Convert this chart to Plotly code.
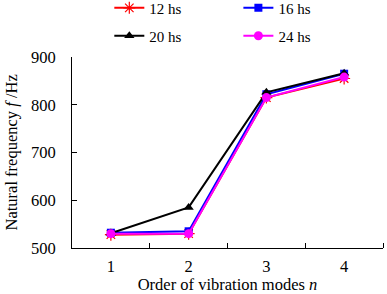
import plotly.graph_objects as go

modes = [1, 2, 3, 4]
tick_labels = ["1", "2", "3", "4"]
f_12hs = [528, 530, 815, 855]
f_16hs = [532, 535, 822, 865]
f_20hs = [531, 585, 826, 866]
f_24hs = [530, 530, 815, 858]

FONT = "Liberation Serif"

fig = go.Figure()
specs = [
    ("12 hs", f_12hs, "#ff0000", dict(symbol="asterisk-open", size=10, line=dict(color="#ff0000", width=1.2)), "legend"),
    ("16 hs", f_16hs, "#0000ff", dict(symbol="square", size=8), "legend2"),
    ("20 hs", f_20hs, "#000000", dict(symbol="triangle-up", size=9), "legend3"),
    ("24 hs", f_24hs, "#ff00ff", dict(symbol="circle", size=9), "legend4"),
]
for name, vals, col, mk, lg in specs:
    m = dict(color=col, **mk)
    fig.add_trace(go.Scatter(x=modes, y=vals, name=name, mode="lines+markers",
                             line=dict(color=col, width=2), marker=m, legend=lg))

lc = dict(orientation="h", font=dict(family=FONT, size=15, color="black"),
          bgcolor="rgba(0,0,0,0)", xanchor="left", yanchor="middle")
fig.update_layout(
    width=387, height=294,
    margin=dict(l=72, r=4, t=57, b=46, autoexpand=False),
    paper_bgcolor="white", plot_bgcolor="white",
    font=dict(family=FONT, size=16, color="black"),
    showlegend=True,
    legend=dict(x=0.12, y=1.256, **lc),
    legend2=dict(x=0.535, y=1.256, **lc),
    legend3=dict(x=0.12, y=1.11, **lc),
    legend4=dict(x=0.535, y=1.11, **lc),
    xaxis=dict(range=[0.5, 4.5], tickmode="array", tickvals=modes, ticktext=tick_labels,
               showgrid=False, zeroline=False, showline=True, linecolor="black", linewidth=1,
               ticks="", tickfont=dict(family=FONT, size=16.5), ticklabelstandoff=3,
               title=dict(text="Order of vibration modes <i>n</i>", font=dict(family=FONT, size=16.5), standoff=7),
               minor=dict(tickmode="array", tickvals=[1.5, 2.5, 3.5, 4.5], ticks="inside", ticklen=5, tickcolor="black")),
    yaxis=dict(range=[500, 900], tickmode="array", tickvals=[500, 600, 700, 800, 900],
               showgrid=False, zeroline=False, showline=True, linecolor="black", linewidth=1,
               ticks="inside", ticklen=5, tickcolor="black", tickfont=dict(family=FONT, size=16.5),
               ticklabelstandoff=12),
    annotations=[dict(text="Natural frequency <i>f</i> /Hz", xref="paper", yref="paper",
                      x=-0.193, y=0.5, xanchor="center", yanchor="middle", textangle=-90,
                      showarrow=False, font=dict(family=FONT, size=16.5, color="black"))],
)
# remove the page's default body margin so the 387x294 figure fills the window exactly
fig.write_html("out.html", config={"displayModeBar": False},
               post_script="document.body.style.margin='0';")
